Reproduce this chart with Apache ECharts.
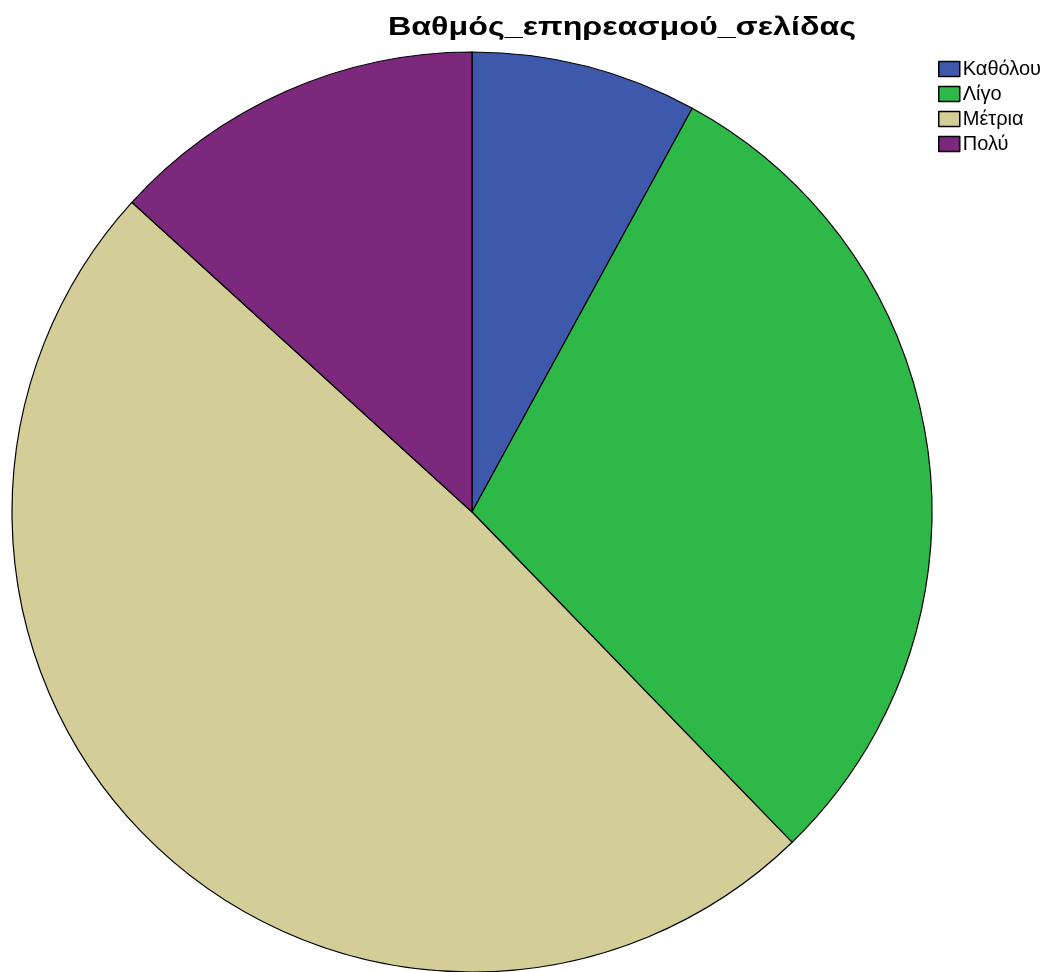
<!DOCTYPE html>
<html>
<head>
<meta charset="utf-8">
<script src="https://cdn.jsdelivr.net/npm/echarts@6/dist/echarts.min.js"></script>
<style>
  html, body { margin: 0; padding: 0; background: #ffffff; }
  #chart { width: 1053px; height: 972px; }
</style>
</head>
<body>
<div id="chart"></div>
<script>
// Response categories and their counts
const categories = ['Καθόλου', 'Λίγο', 'Μέτρια', 'Πολύ'];
const counts = [12, 45, 74, 20];
const colors = ['#3E58AC', '#2EB848', '#D3CE97', '#7C287D'];
const titleText = 'Βαθμός_επηρεασμού_σελίδας';

const chart = echarts.init(document.getElementById('chart'), null, { renderer: 'canvas' });

chart.setOption({
  animation: false,
  backgroundColor: '#ffffff',
  // Title drawn as a graphic text so it can be widened horizontally
  graphic: [{
    type: 'text',
    x: 622,
    y: 28,
    scaleX: 1.29,
    silent: true,
    style: {
      x: 0,
      y: 0,
      text: titleText,
      align: 'center',
      verticalAlign: 'middle',
      font: 'bold 25px "Liberation Sans", Arial, sans-serif',
      fill: '#000000'
    }
  }],
  legend: {
    orient: 'vertical',
    left: 933,
    top: 54,
    itemWidth: 21,
    itemHeight: 15,
    itemGap: 5,
    icon: 'rect',
    selectedMode: false,
    data: categories,
    itemStyle: { borderColor: '#000000', borderWidth: 1.5 },
    textStyle: {
      fontFamily: '"Liberation Sans", Arial, sans-serif',
      fontSize: 20,
      color: '#000000',
      padding: [0, 0, 0, -2]
    }
  },
  series: [{
    type: 'pie',
    center: [472, 512],
    radius: 460,
    startAngle: 90,
    clockwise: true,
    silent: true,
    label: { show: false },
    labelLine: { show: false },
    itemStyle: { borderColor: '#000000', borderWidth: 1.2 },
    data: categories.map((name, i) => ({
      name,
      value: counts[i],
      itemStyle: { color: colors[i] }
    }))
  }]
});
</script>
</body>
</html>
